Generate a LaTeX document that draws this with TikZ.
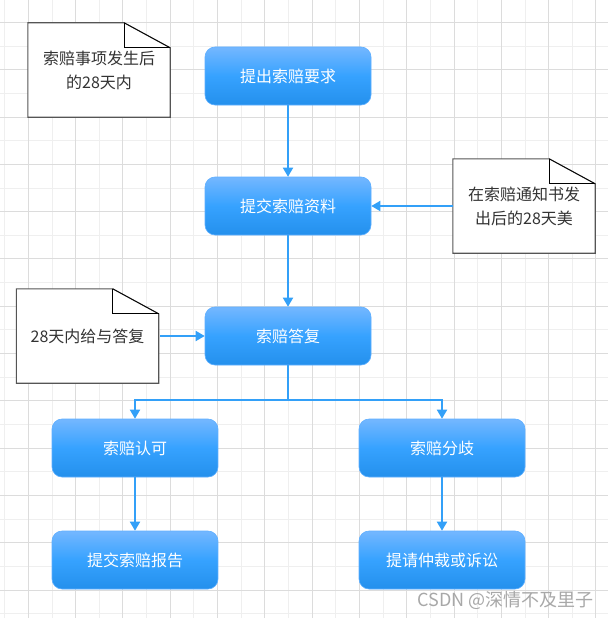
\documentclass[tikz,border=0pt]{standalone}
\usepackage{fontspec}
\newfontfamily\cjk{Noto Sans CJK SC}
\usetikzlibrary{arrows.meta,calc,backgrounds}
\definecolor{gridl}{HTML}{EFEFEF}
\definecolor{gridd}{HTML}{DCDCDC}
\definecolor{btop}{HTML}{74B7FF}
\definecolor{bmid}{HTML}{36A2FF}
\definecolor{bbot}{HTML}{2490EC}
\definecolor{bline}{HTML}{5EAFFF}
\definecolor{arr}{HTML}{33A0F8}
\definecolor{ntext}{HTML}{333333}
\definecolor{nline}{HTML}{555555}
\definecolor{wmark}{HTML}{A8A8A8}
\tikzset{
  stepbox/.style={rounded corners=10pt, minimum width=166pt, minimum height=58pt,
    draw=bline, line width=0.6pt, top color=btop, bottom color=bbot, middle color=bmid,
    text=white, font=\cjk\fontsize{16}{20}\selectfont, inner sep=0pt},
  notebox/.style={minimum width=142pt, minimum height=94pt, inner sep=0pt,
    text=ntext, align=center, font=\cjk\fontsize{16}{24}\selectfont},
  noteshape/.style={draw=nline, line width=1.1pt, fill=white},
  notefold/.style={draw=black, line width=0.7pt},
  flow/.style={draw=arr, line width=1.8pt, -{Triangle[width=10pt,length=9pt]}},
}
\begin{document}
\begin{tikzpicture}[x=1pt,y=-1pt]
\useasboundingbox (0,0) rectangle (608,618);
\begin{pgfonlayer}{background}
\fill[white] (0,0) rectangle (608,618);
\foreach \i in {0,...,25}{
  \pgfmathsetmacro\xx{4.65+23.65*\i}
  \ifodd\i\else \draw[gridl, line width=0.9pt] (\xx,0) -- (\xx,618);\fi
}
\foreach \j in {1,...,26}{
  \pgfmathsetmacro\yy{-1.25+23.65*\j}
  \ifodd\j\else \draw[gridl, line width=0.9pt] (0,\yy) -- (608,\yy);\fi
}
\foreach \i in {0,...,25}{
  \pgfmathsetmacro\xx{4.65+23.65*\i}
  \ifodd\i \draw[gridd, line width=0.9pt] (\xx,0) -- (\xx,618);\fi
}
\foreach \j in {1,...,26}{
  \pgfmathsetmacro\yy{-1.25+23.65*\j}
  \ifodd\j \draw[gridd, line width=0.9pt] (0,\yy) -- (608,\yy);\fi
}
\end{pgfonlayer}

% main flow boxes
\node[stepbox] (b1) at (288,76) {提出索赔要求};
\node[stepbox] (b2) at (288,206) {提交索赔资料};
\node[stepbox] (b3) at (288,336) {索赔答复};
\node[stepbox] (b4) at (135,448) {索赔认可};
\node[stepbox] (b5) at (442,448) {索赔分歧};
\node[stepbox] (b6) at (135,560) {提交索赔报告};
\node[stepbox] (b7) at (442,560) {提请仲裁或诉讼};

% notes
\node[notebox] (n1) at (99,70) {索赔事项发生后\\的28天内};
\node[notebox] (n2) at (524,206) {在索赔通知书发\\出后的28天美};
\node[notebox] (n3) at (87.5,336) {28天内给与答复};

\begin{pgfonlayer}{background}
\foreach \n in {n1,n2,n3}{
  \draw[noteshape] (\n.north west) -- ($(\n.north east)+(-46,0)$) -- ($(\n.north east)+(0,25)$)
     -- (\n.south east) -- (\n.south west) -- cycle;
  \draw[notefold] ($(\n.north east)+(-46,0)$) -- ($(\n.north east)+(-46,25)$) -- ($(\n.north east)+(0,25)$);
  \draw[notefold] ($(\n.north east)+(-46,0)$) -- ($(\n.north east)+(0,25)$);
}
\end{pgfonlayer}

% connectors
\coordinate (sp) at (288,400);
\draw[flow] (b1) -- (b2);
\draw[flow] (b2) -- (b3);
\draw[flow] (n2.west) -- (b2.east);
\draw[flow] ([xshift=1.5pt]n3.east) -- (b3.west);
\draw[draw=arr, line width=1.8pt] (b3.south) -- (sp);
\draw[flow] (sp) -| (b4.north);
\draw[flow] (sp) -| (b5.north);
\draw[flow] (b4) -- (b6);
\draw[flow] (b5) -- (b7);

% watermark
\node[anchor=east, text=wmark, font=\cjk\fontsize{18}{20}\selectfont, inner sep=0pt] (wm) at (594,600) {CSDN @深情不及里子};
\end{tikzpicture}
\end{document}
